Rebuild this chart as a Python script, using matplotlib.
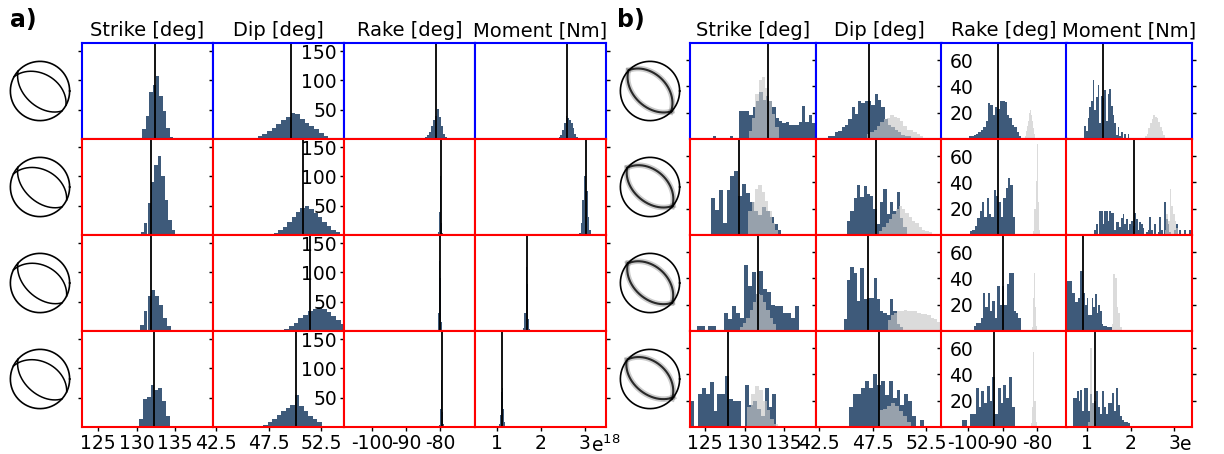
import numpy as np
import matplotlib.pyplot as plt

titles = ['Strike [deg]', 'Dip [deg]', 'Rake [deg]', 'Moment [Nm]']

# each histogram: (left edge of first bin, bin width, counts); moment in 1e18 Nm
a_strike = [(130.7, 0.45, [17, 40, 80, 93, 107, 74, 48, 19, 4]),
            (130.5, 0.45, [5, 20, 55, 90, 120, 135, 100, 60, 25, 8]),
            (130.4, 0.5, [10, 35, 60, 70, 60, 45, 22, 8]),
            (130.3, 0.5, [14, 48, 52, 71, 64, 66, 45, 18])]
a_dip = [(45.1, 0.45, [1, 1, 2, 5, 9, 13, 19, 26, 32, 38, 44, 43, 34, 27, 22, 17, 10, 5]),
         (47.6, 0.42, [2, 4, 8, 14, 22, 30, 40, 46, 50, 44, 38, 30, 22, 15, 9, 5]),
         (49.0, 0.45, [3, 8, 14, 22, 28, 34, 38, 41, 38, 32, 25, 18, 12]),
         (47.0, 0.43, [3, 8, 14, 21, 28, 33, 38, 54, 36, 27, 19, 14, 9])]
a_rake = [(-85.0, 0.6, [2, 3, 6, 12, 22, 33, 40, 51, 38, 22, 8, 3]),
          (-80.6, 0.25, [5, 40, 145, 100, 20, 3]),
          (-80.7, 0.25, [4, 30, 120, 90, 15]),
          (-80.3, 0.25, [3, 30, 95, 80, 25, 5])]
a_moment = [(2.36, 0.04, [2, 3, 7, 15, 28, 40, 36, 33, 28, 18, 8, 3]),
            (2.86, 0.04, [4, 20, 60, 100, 75, 30, 8]),
            (1.60, 0.025, [5, 30, 110, 80, 20, 4]),
            (1.04, 0.025, [5, 20, 60, 67, 30, 8])]
a_medians = [[132.4, 49.6, -81.1, 2.59],
             [131.9, 50.8, -79.8, 3.02],
             [131.9, 51.5, -80.0, 1.68],
             [132.2, 50.1, -79.3, 1.11]]

b_strike = [(123.05, 0.42, [1, 0, 0, 1, 0, 0, 0, 2, 0, 0, 0, 1, 2, 1, 0, 21, 21, 21, 18, 24,
                            29, 36, 30, 33, 29, 24, 16, 14, 12, 13, 11, 11, 11, 13, 25, 13, 18, 12]),
            (125.7, 0.5, [28, 19, 34, 9, 34, 45, 49, 30, 39, 32, 25, 18, 15, 21, 18, 14, 8, 4]),
            (123.9, 0.5, [4, 4, 0, 4, 4, 0, 0, 14, 9, 19, 14, 10, 50, 34, 45, 28, 46, 32, 30,
                          20, 19, 19, 14, 14, 10, 19]),
            (123.05, 0.5, [20, 0, 25, 30, 25, 34, 12, 25, 25, 39, 21, 20, 20, 0, 32, 17, 20, 14,
                           8, 30, 15, 25, 0, 0, 0, 0, 1])]
b_dip = [(43.05, 0.31, [1, 2, 2, 5, 6, 9, 11, 15, 24, 19, 29, 27, 29, 29, 26, 34, 30, 24, 15,
                        11, 9, 7, 5, 3, 2, 2, 1, 1, 1, 1, 1, 1, 1]),
         (45.1, 0.31, [11, 18, 28, 38, 29, 37, 31, 30, 20, 8, 25, 35, 16, 25, 18, 33, 13, 6]),
         (44.8, 0.31, [9, 39, 49, 44, 23, 48, 24, 25, 25, 40, 24, 15, 14, 12, 24, 15, 5, 3]),
         (45.3, 0.37, [15, 25, 25, 30, 35, 30, 40, 32, 35, 24, 35, 22, 28, 17, 25, 20, 8, 0, 5])]
b_rake = [(-106.9, 0.7, [1, 0, 0, 0, 0, 0, 0, 0, 0, 0, 2, 2, 3, 4, 5, 7, 9, 14, 27, 26, 18,
                         24, 23, 29, 29, 28, 18, 16, 11, 9, 5, 2]),
          (-99.5, 0.69, [3, 4, 7, 13, 18, 25, 14, 28, 16, 14, 34, 30, 25, 14, 28, 36, 43, 38, 14]),
          (-98.5, 0.69, [4, 6, 6, 10, 29, 18, 29, 15, 23, 10, 34, 20, 34, 20, 36, 44, 44, 15, 14, 10]),
          (-101.9, 0.81, [5, 5, 0, 10, 10, 30, 15, 27, 18, 31, 20, 38, 10, 30, 18, 32, 22, 38, 15])]
b_moment = [(0.834, 0.038, [1, 0, 0, 10, 6, 16, 24, 29, 45, 22, 32, 41, 12, 33, 31, 37, 14, 34,
                            38, 25, 18, 12, 3, 9, 2, 5, 0, 4, 0, 4]),
            (1.175, 0.038, [4, 8, 0, 18, 18, 8, 18, 18, 11, 18, 17, 17, 4, 10, 10, 6, 13, 16, 8,
                            12, 4, 8, 11, 7, 17, 12, 4, 10, 8, 5, 0, 2, 4, 14, 4, 0, 8, 0, 2, 14,
                            4, 0, 25, 12, 8, 2, 0, 0, 4, 8, 0, 4, 0, 0, 4, 0, 0, 4]),
            (0.545, 0.038, [38, 38, 38, 29, 29, 22, 22, 25, 46, 46, 29, 20, 25, 12, 12, 25, 18,
                            28, 14, 20, 15, 5, 4, 4, 3, 3, 3]),
            (0.68, 0.045, [22, 22, 27, 20, 28, 12, 30, 30, 12, 25, 18, 20, 27, 15, 10, 27, 15, 10,
                           18, 18, 26, 12, 30, 17, 8, 5, 4, 4, 3])]
b_medians = [[133.0, 47.2, -91.4, 1.365],
             [129.3, 47.8, -91.3, 2.09],
             [131.7, 47.1, -89.9, 0.925],
             [127.9, 48.1, -92.6, 1.2]]

# reference solution distributions overlaid in grey on panel b
g_strike = [(130.55, 0.42, [6, 16, 34, 45, 47, 39, 29, 19, 9]),
            (130.5, 0.42, [18, 25, 35, 38, 33, 26, 18, 9, 4]),
            (129.4, 0.42, [3, 6, 10, 16, 22, 28, 27, 22, 16, 10, 5]),
            (130.3, 0.5, [15, 25, 31, 28, 20, 13, 6, 2])]
g_dip = [(46.98, 0.31, [4, 5, 7, 10, 13, 15, 16, 18, 17, 16, 14, 10, 7, 7, 5, 4, 2]),
         (48.1, 0.31, [3, 6, 9, 12, 16, 20, 22, 20, 17, 14, 11, 9, 6, 4, 3, 2]),
         (48.9, 0.31, [8, 12, 14, 15, 15, 16, 15, 15, 15, 14, 13, 13, 12, 10, 9, 7]),
         (48.1, 0.37, [13, 14, 16, 18, 16, 12, 8, 4])]
g_rake = [(-83.5, 0.3, [2, 6, 10, 14, 20, 22, 18, 14, 8, 4]),
          (-81.0, 0.3, [3, 20, 41, 69, 25, 4]),
          (-81.5, 0.3, [3, 25, 44, 18, 4]),
          (-81.6, 0.3, [3, 15, 57, 20, 4])]
g_moment = [(2.29, 0.038, [1, 2, 4, 8, 12, 15, 18, 17, 16, 13, 9, 6, 3, 1]),
            (2.78, 0.038, [4, 16, 11, 35, 22, 16, 11, 5]),
            (1.57, 0.038, [5, 43, 40, 18, 14, 3]),
            (1.04, 0.04, [4, 60, 18, 5])]

a_xlims = [(122.9, 139.9), (42.2, 54.7), (-108.2, -69.7), (0.5, 3.48)]
b_xlims = [(123.05, 139.1), (42.2, 54.0), (-108.0, -71.2), (0.53, 3.4)]
xticks = [[125, 130, 135], [42.5, 47.5, 52.5], [-100, -90, -80], [1, 2, 3]]
xticklabels = [['125', '130', '135'], ['42.5', '47.5', '52.5'], ['-100', '-90', '-80'], ['1', '2', '3']]

DARK = '#3e5a7a'
FS = 13.5
W, H = 1224, 454


def rect(x, y, w, h):
    return [x / W, 1 - (y + h) / H, w / W, h / H]


def hist(ax, spec, **kw):
    start, width, counts = spec
    edges = start + width * np.arange(len(counts))
    ax.bar(edges, counts, width=width, align='edge', linewidth=0, **kw)


def plane_xy(strike, dip):
    s, d = np.radians(strike), np.radians(dip)
    t = np.radians(np.linspace(0, 180, 181))
    sv = np.array([np.cos(s), np.sin(s), 0.0])
    dv = np.array([np.cos(d) * np.cos(s + np.pi / 2), np.cos(d) * np.sin(s + np.pi / 2), np.sin(d)])
    v = np.outer(np.cos(t), sv) + np.outer(np.sin(t), dv)
    trend = np.arctan2(v[:, 1], v[:, 0])
    plunge = np.arcsin(np.clip(v[:, 2], -1, 1))
    r = np.sqrt(2) * np.sin((np.pi / 2 - plunge) / 2)
    return r * np.sin(trend), r * np.cos(trend)


def aux_plane(strike, dip, rake):
    s, d, r = np.radians([strike, dip, rake])
    sv = np.array([np.cos(s), np.sin(s), 0.0])
    dv = np.array([np.cos(d) * np.cos(s + np.pi / 2), np.cos(d) * np.sin(s + np.pi / 2), np.sin(d)])
    u = np.cos(r) * sv - np.sin(r) * dv
    if u[2] > 0:
        u = -u
    dip2 = np.degrees(np.arccos(-u[2]))
    dipdir = np.degrees(np.arctan2(u[1], u[0]))
    return (dipdir - 90) % 360, dip2


def beachball(fig, cx, cy, strike, dip, rake, soft):
    ax = fig.add_axes(rect(cx - 32, cy - 32, 64, 64))
    th = np.linspace(0, 2 * np.pi, 200)
    ax.plot(np.cos(th), np.sin(th), color='k', lw=1.2)
    for s, d in [(strike, dip), aux_plane(strike, dip, rake)]:
        x, y = plane_xy(s, d)
        if soft:
            ax.plot(x, y, color='k', lw=4, alpha=0.2)
            ax.plot(x, y, color='k', lw=1.5, alpha=0.8)
        else:
            ax.plot(x, y, color='k', lw=1.1)
    ax.set_xlim(-1.08, 1.08)
    ax.set_ylim(-1.08, 1.08)
    ax.set_aspect('equal')
    ax.axis('off')


def panel(fig, lefts, width, xlims, dark, grey, medians, ylim, yticks, bb_x, last_label, inner_labels):
    tops = [43, 139, 235, 331]
    for i, top in enumerate(tops):
        for j, left in enumerate(lefts):
            ax = fig.add_axes(rect(left, top, width, 96))
            hist(ax, dark[j][i], color=DARK)
            if grey is not None:
                hist(ax, grey[j][i], color='#c8c8c8', alpha=0.65)
            ax.axvline(medians[i][j], color='k', lw=1.3)
            ax.set_xlim(xlims[j])
            ax.set_ylim(ylim)
            ax.set_xticks(xticks[j])
            ax.set_yticks(yticks)
            for sp in ax.spines.values():
                sp.set_color('blue' if i == 0 else 'red')
                sp.set_linewidth(1.5)
            ax.tick_params(direction='out', length=3, width=1, labelsize=FS, pad=2)
            if j == 3:
                ax.yaxis.tick_right()
                ax.tick_params(labelright=False)
            elif j != 2:
                ax.tick_params(labelleft=False)
            elif inner_labels:
                # y labels sit just inside the rake axes
                ax.tick_params(axis='y', pad=-9)
                for lbl in ax.get_yticklabels():
                    lbl.set_horizontalalignment('left')
            if i == 3:
                ax.set_xticklabels(xticklabels[j])
                if j == 3:
                    ax.annotate(last_label, xy=(3, 0), xycoords=('data', 'axes fraction'),
                                xytext=(4.2, -5.5), textcoords='offset points',
                                ha='left', va='top', fontsize=FS)
            else:
                ax.tick_params(labelbottom=False)
            if i == 0:
                ax.set_title(titles[j], fontsize=14, pad=5)
        bb_strike, bb_dip, bb_rake = medians[i][0], medians[i][1], medians[i][2]
        beachball(fig, bb_x, top + 48, bb_strike, bb_dip, bb_rake, grey is not None)


fig = plt.figure(figsize=(W / 100, H / 100), dpi=100)
panel(fig, [82, 213, 344, 475], 131, a_xlims, [a_strike, a_dip, a_rake, a_moment], None,
      a_medians, (0, 164), [50, 100, 150], 40, 'e$^{18}$', False)
panel(fig, [690, 816, 941, 1066], 126, b_xlims, [b_strike, b_dip, b_rake, b_moment],
      [g_strike, g_dip, g_rake, g_moment], b_medians, (0, 73), [20, 40, 60], 650, 'e', True)
fig.text(10 / W, 1 - 20 / H, 'a)', fontsize=17, fontweight='bold', va='center')
fig.text(617 / W, 1 - 20 / H, 'b)', fontsize=17, fontweight='bold', va='center')
fig.savefig('out.png', dpi=100)
